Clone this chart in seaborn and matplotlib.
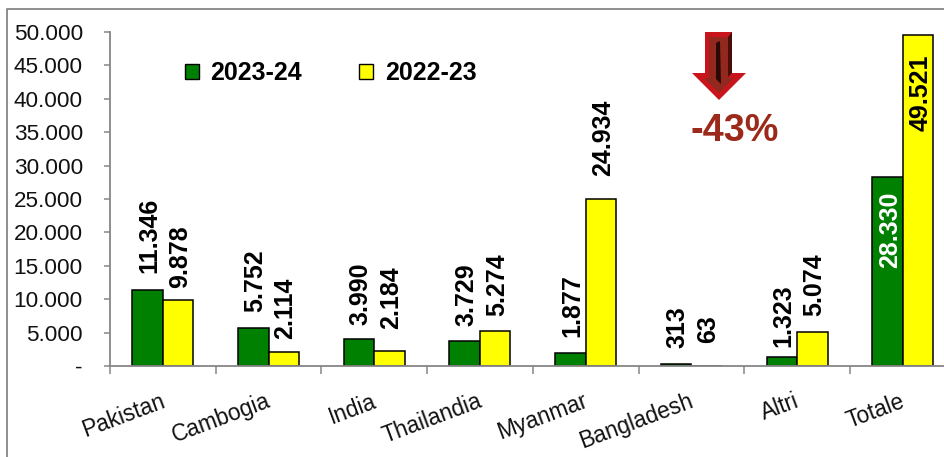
import pandas as pd
import matplotlib
matplotlib.use('Agg')
import matplotlib.pyplot as plt
from matplotlib.lines import Line2D
from matplotlib.patches import Polygon, Patch
from matplotlib.transforms import ScaledTranslation
import seaborn as sns

categories = ['Pakistan', 'Cambogia', 'India', 'Thailandia', 'Myanmar', 'Bangladesh', 'Altri', 'Totale']
values_2324 = [11346, 5752, 3990, 3729, 1877, 313, 1323, 28330]
values_2223 = [9878, 2114, 2184, 5274, 24934, 63, 5074, 49521]
series_names = ['2023-24', '2022-23']
y_ticks = list(range(0, 50001, 5000))

W, H = 944, 457
GRAY = '#868686'

sns.set_style('white')
plt.rcParams['font.family'] = ['Liberation Sans', 'DejaVu Sans']

df = pd.DataFrame({
    'cat': categories * 2,
    'val': values_2324 + values_2223,
    'year': [series_names[0]] * 8 + [series_names[1]] * 8,
})


def dotted(v):
    return f'{v:,}'.replace(',', '.')


fig = plt.figure(figsize=(W / 100, H / 100), dpi=100)
# the plot runs past the right edge of the image, as in the reference
ax = fig.add_axes([110 / W, (H - 366) / H, 8 * 105.7 / W, 334 / H])

sns.barplot(data=df, x='cat', y='val', hue='year', hue_order=series_names,
            palette=['#008000', '#ffff00'], width=0.577, gap=0, saturation=1,
            edgecolor='black', linewidth=1.1, legend=False, ax=ax)

ax.set_xlabel('')
ax.set_ylabel('')
ax.set_xlim(-0.5, 7.5)
ax.set_ylim(0, 50000)
ax.set_yticks(y_ticks)
ax.set_yticklabels(['-'] + [dotted(v) for v in y_ticks[1:]], fontsize=16.2, color='#111111')
ax.set_xticks([i - 0.5 for i in range(9)])
ax.set_xticklabels([])
ax.set_xticks(range(8), minor=True)
ax.set_xticklabels(categories, minor=True, rotation=20.5, ha='right', rotation_mode='anchor',
                   fontsize=16.3, color='#111111')
ax.tick_params(axis='y', length=4, width=1.1, color=GRAY, pad=15.5, left=True)
ax.tick_params(axis='x', which='major', length=5.8, width=1.1, color=GRAY, bottom=True)
ax.tick_params(axis='x', which='minor', length=0, pad=17)
# nudge the category names 3 px to the left
for lab in ax.get_xticklabels(minor=True):
    lab.set_transform(lab.get_transform() + ScaledTranslation(-3 / 100, 0, fig.dpi_scale_trans))
sns.despine(ax=ax)
for side in ['left', 'bottom']:
    ax.spines[side].set_color(GRAY)
    ax.spines[side].set_linewidth(1.3)

# gaps between bar top and label, in pixels
gaps_2324 = [17, 16, 14, 15, 16, 16, 10, None]
gaps_2223 = [12, 13, 22, 15, 23, 23, 16, None]
for bars, vals, gaps in zip(ax.containers, [values_2324, values_2223], [gaps_2324, gaps_2223]):
    for bar, v, gap in zip(bars, vals, gaps):
        if gap is None:
            continue
        cx = bar.get_x() + bar.get_width() / 2
        ax.annotate(dotted(v), (cx, v), xytext=(1.3, gap * 0.72), textcoords='offset points',
                    rotation=90, ha='center', va='bottom', fontsize=18, fontweight='bold', color='black')

# Totale labels sit inside the bars
tot_a, tot_b = ax.containers[0][7], ax.containers[1][7]
ax.annotate(dotted(values_2324[7]), (tot_a.get_x() + tot_a.get_width() / 2, values_2324[7]),
            xytext=(2, -10.5), textcoords='offset points', rotation=90, ha='center', va='top',
            fontsize=18, fontweight='bold', color='white')
ax.annotate(dotted(values_2223[7]), (tot_b.get_x() + tot_b.get_width() / 2, values_2223[7]),
            xytext=(2, -14), textcoords='offset points', rotation=90, ha='center', va='top',
            fontsize=18, fontweight='bold', color='black')

handles = [Patch(facecolor='#008000', edgecolor='black', linewidth=1),
           Patch(facecolor='#ffff00', edgecolor='black', linewidth=1)]
fig.legend(handles, series_names, loc='center left', bbox_to_anchor=(185 / W, 1 - 73 / H), ncols=2,
           frameon=False, prop={'size': 18, 'weight': 'bold'}, labelcolor='black',
           handlelength=0.56, handleheight=0.56, handletextpad=0.45, columnspacing=2.3,
           borderaxespad=0, borderpad=0)


def px(points):
    return [(x / W, 1 - y / H) for x, y in points]


def add_shape(points, color):
    fig.add_artist(Polygon(px(points), closed=True, transform=fig.transFigure, facecolor=color, edgecolor='none'))


# decorative arrow and figure border, placed in image pixels
add_shape([(705, 32), (732, 32), (732, 73), (746, 73), (719, 100), (692, 73), (705, 73)], '#c8141a')
add_shape([(728, 37), (732, 32), (732, 73), (728, 77)], '#4a0c08')
add_shape([(709, 37), (728, 37), (728, 78), (734, 78), (719, 93), (704, 78), (709, 78)], '#93291e')
add_shape([(716, 43), (720, 41), (721, 84), (716, 79)], '#2a0805')
fig.text(691 / W, 1 - 141 / H, '-43%', fontsize=27.2, fontweight='bold', color='#9c2a1a', ha='left', va='baseline')

fig.add_artist(Line2D([7 / W, 7 / W, 1], [0, 1 - 9 / H, 1 - 9 / H], transform=fig.transFigure, color=GRAY, lw=1.3))

fig.savefig('out.png', dpi=100)
